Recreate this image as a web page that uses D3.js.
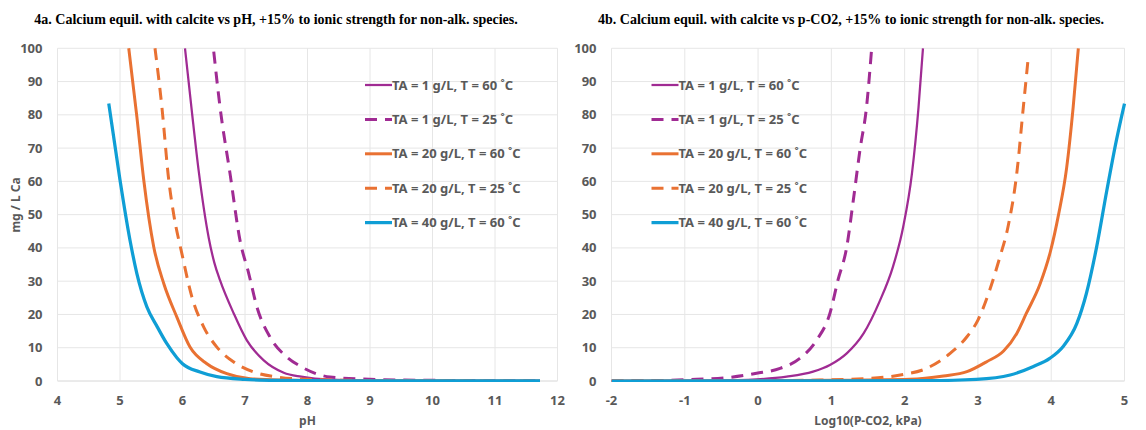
<!DOCTYPE html>
<html>
<head>
<meta charset="utf-8">
<script src="https://cdn.jsdelivr.net/npm/d3@7"></script>
<style>
  body { margin: 0; background: #fff; }
  svg { display: block; }
</style>
</head>
<body>
<svg id="chart" width="1146" height="430"></svg>
<script>
// legend labels (same for both panels)
const seriesLabels = [
  "TA = 1 g/L, T = 60 ˚C",
  "TA = 1 g/L, T = 25 ˚C",
  "TA = 20 g/L, T = 60 ˚C",
  "TA = 20 g/L, T = 25 ˚C",
  "TA = 40 g/L, T = 60 ˚C"
];

// 4a: [pH, mg/L Ca]
const phTa1T60 = [[6.04,100],[6.15,81],[6.26,63],[6.42,43],[6.51,35.5],[6.60,30.3],[6.82,20.3],[7.03,12.2],[7.30,6.2],[7.62,2.5],[7.9,1.3],[8.37,0.4],[9,0.15],[10,0.05],[11.72,0.02]];
const phTa1T25 = [[6.50,99],[6.60,82.4],[6.76,62.4],[6.92,42.3],[7.06,32.3],[7.19,22.3],[7.40,13.2],[7.67,7.2],[7.88,4.5],[8.36,1.2],[9.0,0.5],[10,0.2],[10.9,0.1],[11.72,0.05]];
const phTa20T60 = [[5.14,100],[5.27,79.4],[5.38,60.4],[5.54,40.3],[5.70,29.3],[5.91,19.2],[6.12,10.2],[6.39,5.2],[6.71,2.2],[7.08,0.7],[7.6,0.3],[8.5,0.1],[10,0.05],[11.72,0.02]];
const phTa20T25 = [[5.56,100],[5.67,82.4],[5.78,60.4],[5.86,50],[5.99,38.3],[6.15,25.3],[6.34,16.2],[6.55,10.2],[6.82,5.7],[7.14,2.7],[7.51,1.2],[8.0,0.5],[9,0.15],[10.5,0.05],[11.72,0.02]];
const phTa40T60 = [[4.82,83.4],[5.0,60.4],[5.16,42.3],[5.27,32.3],[5.43,22.3],[5.59,16.5],[5.75,11.2],[5.91,7],[6.0,5.2],[6.28,2.7],[6.55,1.3],[7.0,0.5],[7.5,0.2],[8.5,0.05],[10,0.02],[11.72,0.01]];

// 4b: [log10(pCO2, kPa), mg/L Ca]
const co2Ta1T60 = [[-2,0.05],[-1,0.1],[-0.6,0.15],[-0.02,0.5],[0.39,1.3],[0.75,2.8],[0.98,4.8],[1.21,8.3],[1.44,14.3],[1.66,24],[1.84,34.3],[1.98,46.3],[2.10,62.4],[2.19,82.4],[2.25,100]];
const co2Ta1T25 = [[-2,0.02],[-1.5,0.1],[-0.84,0.5],[-0.38,1.1],[-0.02,2.3],[0.30,3.8],[0.57,6.8],[0.80,12.3],[0.98,20.3],[1.09,30.3],[1.21,40.3],[1.30,54.4],[1.39,69.4],[1.48,82.4],[1.55,100]];
const co2Ta20T60 = [[-2,0],[0,0.05],[1,0.2],[2.07,0.5],[2.53,1.5],[2.85,2.8],[3.12,5.8],[3.35,9],[3.53,14.3],[3.66,20.3],[3.85,29.3],[3.99,39],[4.10,50],[4.21,64],[4.30,82.4],[4.37,100]];
const co2Ta20T25 = [[-2,0],[0,0.1],[0.85,0.3],[1.53,0.8],[1.94,1.8],[2.30,3.8],[2.62,8.3],[2.85,13.3],[3.0,18.3],[3.16,27.3],[3.30,37.3],[3.41,46.3],[3.53,62.4],[3.62,82.4],[3.69,98]];
const co2Ta40T60 = [[-2,0],[1,0.02],[2.3,0.1],[2.98,0.5],[3.44,1.8],[3.75,4.3],[3.98,6.8],[4.16,10.3],[4.35,17.3],[4.48,26.3],[4.62,40.3],[4.76,57.4],[4.89,72.4],[5.0,83.4]];

const yTicks = [0, 10, 20, 30, 40, 50, 60, 70, 80, 90, 100];
const phTicks = [4, 5, 6, 7, 8, 9, 10, 11, 12];
const co2Ticks = [-2, -1, 0, 1, 2, 3, 4, 5];

// line styles per series (purple solid is drawn thinner)
const styles = [
  { color: "#A02B93", width: 2.25, dash: null },
  { color: "#A02B93", width: 3, dash: "12,8" },
  { color: "#E97132", width: 3, dash: null },
  { color: "#E97132", width: 3, dash: "12,8" },
  { color: "#0F9ED5", width: 3.25, dash: null }
];

const gray = "#595959";
const tickFont = "'Noto Sans', sans-serif";

function drawPanel(svg, opts) {
  const { left, right, top, bottom, xDomain, xTicks, series, title, titleX, xLabel, legendX, id } = opts;

  const x = d3.scaleLinear().domain(xDomain).range([left, right]);
  const y = d3.scaleLinear().domain([0, 100]).range([bottom, top]);

  svg.append("defs").append("clipPath")
    .attr("id", id)
    .append("rect")
    .attr("x", left)
    .attr("y", top - 1)
    .attr("width", right - left + 2)
    .attr("height", bottom - top + 2);

  // gridlines
  svg.append("g")
    .selectAll("line")
    .data(yTicks)
    .join("line")
    .attr("x1", left).attr("x2", right)
    .attr("y1", d => y(d)).attr("y2", d => y(d))
    .attr("stroke", d => d === 0 ? "#d6d6d6" : "#e6e6e6")
    .attr("stroke-width", 1);

  svg.append("g")
    .selectAll("line")
    .data(xTicks)
    .join("line")
    .attr("x1", d => x(d)).attr("x2", d => x(d))
    .attr("y1", top).attr("y2", bottom)
    .attr("stroke", "#e6e6e6")
    .attr("stroke-width", 1);

  // tick labels
  svg.append("g")
    .selectAll("text")
    .data(yTicks)
    .join("text")
    .attr("x", left - 15)
    .attr("y", d => y(d))
    .attr("dy", "0.35em")
    .attr("text-anchor", "end")
    .style("font-family", tickFont)
    .style("font-weight", "bold")
    .style("font-size", "13px")
    .style("fill", gray)
    .text(d => d);

  svg.append("g")
    .selectAll("text")
    .data(xTicks)
    .join("text")
    .attr("x", d => x(d))
    .attr("y", bottom + 24)
    .attr("text-anchor", "middle")
    .style("font-family", tickFont)
    .style("font-weight", "bold")
    .style("font-size", "13px")
    .style("fill", gray)
    .text(d => d);

  // axis title
  svg.append("text")
    .attr("x", (left + right) / 2)
    .attr("y", 425)
    .attr("text-anchor", "middle")
    .style("font-family", tickFont)
    .style("font-weight", "bold")
    .style("font-size", "12px")
    .style("fill", gray)
    .text(xLabel);

  // chart title
  svg.append("text")
    .attr("x", titleX)
    .attr("y", 24)
    .attr("text-anchor", "middle")
    .style("font-family", "'Liberation Serif', 'Times New Roman', serif")
    .style("font-weight", "bold")
    .style("font-size", "14px")
    .style("fill", "#000")
    .text(title);

  const line = d3.line()
    .x(d => x(d[0]))
    .y(d => y(d[1]))
    .curve(d3.curveMonotoneX);

  const g = svg.append("g").attr("clip-path", `url(#${id})`);
  series.forEach((s, i) => {
    g.append("path")
      .datum(s)
      .attr("fill", "none")
      .attr("stroke", styles[i].color)
      .attr("stroke-width", styles[i].width)
      .attr("stroke-dasharray", styles[i].dash)
      .attr("stroke-linejoin", "round")
      .attr("d", line);
  });

  // legend
  const legend = svg.append("g");
  seriesLabels.forEach((label, i) => {
    const ly = 85 + i * 34.4;
    legend.append("line")
      .attr("x1", legendX).attr("x2", legendX + 27)
      .attr("y1", ly).attr("y2", ly)
      .attr("stroke", styles[i].color)
      .attr("stroke-width", styles[i].width)
      .attr("stroke-dasharray", styles[i].dash);
    legend.append("text")
      .attr("x", legendX + 27)
      .attr("y", ly)
      .attr("dy", "0.36em")
      .style("font-family", tickFont)
      .style("font-weight", "bold")
      .style("font-size", "13px")
      .style("fill", gray)
      .text(label);
  });
}

function drawChart() {
  const svg = d3.select("#chart");
  svg.selectAll("*").remove();

  svg.append("rect").attr("width", 1146).attr("height", 430).attr("fill", "#fff");

  drawPanel(svg, {
    id: "clipA",
    left: 57.5, right: 557.5, top: 48.3, bottom: 381,
    xDomain: [4, 12], xTicks: phTicks,
    series: [phTa1T60, phTa1T25, phTa20T60, phTa20T25, phTa40T60],
    title: "4a. Calcium equil. with calcite vs pH, +15% to ionic strength for non-alk. species.",
    titleX: 276,
    xLabel: "pH",
    legendX: 365
  });

  drawPanel(svg, {
    id: "clipB",
    left: 611.5, right: 1124.5, top: 48.3, bottom: 381,
    xDomain: [-2, 5], xTicks: co2Ticks,
    series: [co2Ta1T60, co2Ta1T25, co2Ta20T60, co2Ta20T25, co2Ta40T60],
    title: "4b. Calcium equil. with calcite vs p-CO2, +15% to ionic strength for non-alk. species.",
    titleX: 851,
    xLabel: "Log10(P-CO2, kPa)",
    legendX: 651.5
  });

  // y axis title, left panel only
  svg.append("text")
    .attr("transform", "translate(19.5,205) rotate(-90)")
    .attr("text-anchor", "middle")
    .style("font-family", tickFont)
    .style("font-weight", "bold")
    .style("font-size", "12px")
    .style("fill", gray)
    .text("mg / L Ca");
}

window.addEventListener("DOMContentLoaded", drawChart);
</script>
</body>
</html>
